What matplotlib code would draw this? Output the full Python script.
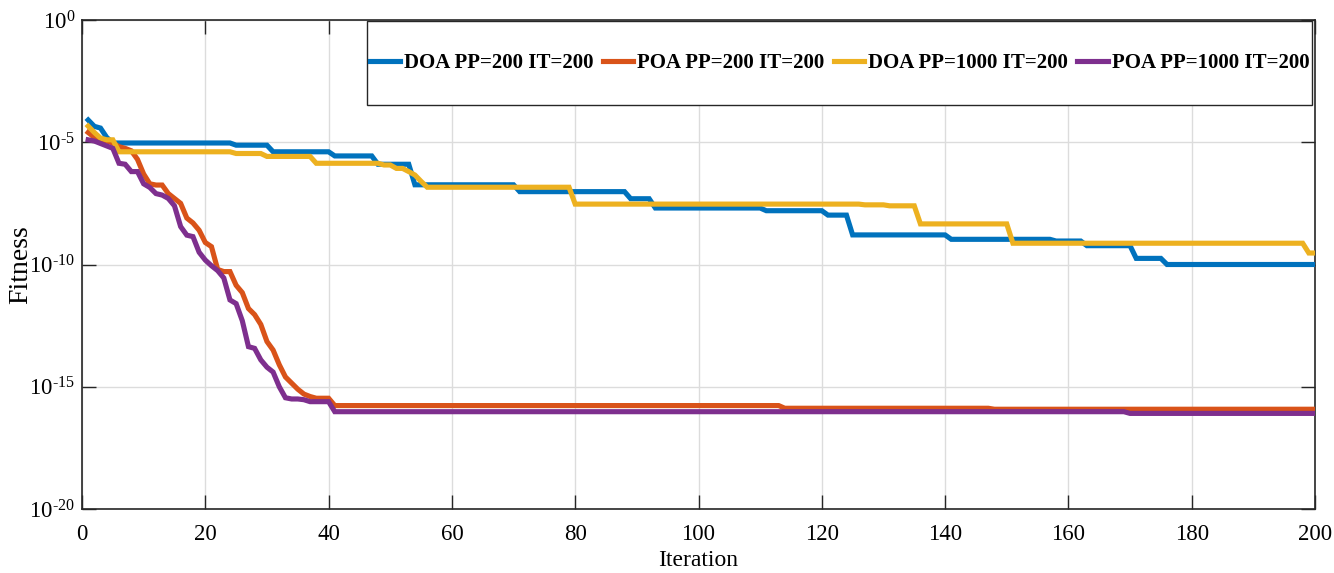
import numpy as np
import matplotlib
matplotlib.use("Agg")
import matplotlib.pyplot as plt
from matplotlib.patches import Rectangle
from matplotlib.ticker import FuncFormatter, NullLocator

# ---- convergence data: iteration where the best fitness changes, log10(fitness) from there on ----
n_iter = 200

doa200_iter = [1, 2, 3, 4, 5, 25, 31, 41, 48, 54, 71, 89, 93, 111, 121, 125, 141, 158, 163, 171, 176]
doa200_log = [-4.09, -4.35, -4.42, -4.8, -5.03, -5.12, -5.39, -5.56, -5.9, -6.74, -7.02, -7.31, -7.69,
              -7.8, -7.98, -8.79, -8.97, -9.04, -9.23, -9.75, -10.0]

poa200_iter = list(range(1, 42)) + [114, 148]
poa200_log = [-4.6, -4.8, -4.9, -4.95, -5.03, -5.18, -5.25, -5.35, -5.7, -6.3,
              -6.7, -6.75, -6.75, -7.1, -7.3, -7.5, -8.1, -8.3, -8.6, -9.1,
              -9.27, -10.2, -10.29, -10.29, -10.85, -11.15, -11.8, -12.05, -12.45, -13.15,
              -13.5, -14.1, -14.6, -14.85, -15.1, -15.3, -15.4, -15.47, -15.47, -15.47,
              -15.77, -15.88, -15.92]

doa1000_iter = [1, 2, 3, 4, 6, 25, 30, 38, 49, 51, 53, 54, 55, 56, 80, 127, 131, 136, 151, 199]
doa1000_log = [-4.34, -4.6, -4.83, -4.9, -5.39, -5.46, -5.58, -5.86, -5.93, -6.07, -6.2, -6.34,
               -6.6, -6.84, -7.53, -7.56, -7.6, -8.34, -9.13, -9.53]

poa1000_iter = list(range(1, 42)) + [170]
poa1000_log = [-4.9, -4.95, -5.05, -5.15, -5.25, -5.86, -5.9, -6.2, -6.2, -6.7,
               -6.85, -7.1, -7.16, -7.3, -7.6, -8.45, -8.8, -8.86, -9.5, -9.82,
               -10.05, -10.25, -10.55, -11.45, -11.6, -12.3, -13.36, -13.43, -13.9, -14.2,
               -14.4, -15.0, -15.45, -15.5, -15.5, -15.53, -15.61, -15.61, -15.61, -15.61,
               -16.02, -16.09]

labels = ["DOA PP=200 IT=200", "POA PP=200 IT=200", "DOA PP=1000 IT=200", "POA PP=1000 IT=200"]
colors = ["#0072BD", "#D95319", "#EDB120", "#7E2F8E"]

x_ticks = [0, 20, 40, 60, 80, 100, 120, 140, 160, 180, 200]
y_ticks = [1e-20, 1e-15, 1e-10, 1e-5, 1e0]


def best_so_far(starts, logs, n=n_iter):
    """Hold each recorded best fitness until the next improvement."""
    vals = np.empty(n)
    ends = list(starts[1:]) + [n + 1]
    for s, e, v in zip(starts, ends, logs):
        vals[s - 1:e - 1] = v
    return 10.0 ** vals


def pow10_label(v, pos):
    e = int(round(np.log10(v)))
    return r"$10^{\text{%d}}$" % e


serif = "Liberation Serif"
plt.rcParams["font.family"] = [serif, "DejaVu Serif"]
plt.rcParams["mathtext.fontset"] = "custom"
plt.rcParams["mathtext.rm"] = serif
plt.rcParams["mathtext.it"] = serif + ":italic"
plt.rcParams["mathtext.bf"] = serif + ":bold"
plt.rcParams["axes.unicode_minus"] = False

fig = plt.figure(figsize=(13.34, 5.73), dpi=100)
ax = fig.add_axes([82 / 1334, 64 / 573, 1233 / 1334, 489 / 573])

it = np.arange(1, n_iter + 1)
series = [
    best_so_far(doa200_iter, doa200_log),
    best_so_far(poa200_iter, poa200_log),
    best_so_far(doa1000_iter, doa1000_log),
    best_so_far(poa1000_iter, poa1000_log),
]
handles = []
for y, c, lab in zip(series, colors, labels):
    h, = ax.semilogy(it, y, color=c, lw=3.7, label=lab, solid_joinstyle="miter", zorder=3)
    handles.append(h)

ax.set_xlim(0, 200)
ax.set_ylim(1e-20, 1e0)
ax.set_xticks(x_ticks)
ax.set_yticks(y_ticks)
ax.yaxis.set_major_formatter(FuncFormatter(pow10_label))
ax.yaxis.set_minor_locator(NullLocator())
ax.xaxis.set_minor_locator(NullLocator())

ax.grid(True, color="#dcdcdc", lw=1.0, zorder=0)
ax.set_axisbelow(True)
ax.tick_params(direction="in", length=10, width=1.0, top=True, right=True,
               colors="#262626", labelcolor="black")
ax.tick_params(axis="x", pad=11, labelsize=16.5)
ax.tick_params(axis="y", pad=5, labelsize=16.5)
for sp in ax.spines.values():
    sp.set_color("#262626")
    sp.set_linewidth(1.2)

ax.set_xlabel("Iteration", fontsize=17)
ax.set_ylabel("Fitness", fontsize=20)
ax.xaxis.set_label_coords(0.5, (509 - 550) / 489)
ax.yaxis.set_label_coords((33 - 82) / 1233, 0.5)

# Legend box across the top of the axes
x0, x1 = (367 - 82) / 1233, (1312 - 82) / 1233
y0, y1 = (509 - 105) / 489, 0.998
ax.add_patch(Rectangle((x0, y0), x1 - x0, y1 - y0, transform=ax.transAxes,
                       facecolor="white", edgecolor="#262626", lw=1.0, zorder=5))
leg = ax.legend(handles=handles, loc="center", bbox_to_anchor=((x0 + x1) / 2, (y0 + y1) / 2),
                ncol=4, frameon=False, prop={"family": serif, "weight": "bold", "size": 15},
                handlelength=1.45, handletextpad=0.2, columnspacing=0.45, borderpad=0.2)
leg.set_zorder(6)

fig.savefig("out.png", dpi=100)
